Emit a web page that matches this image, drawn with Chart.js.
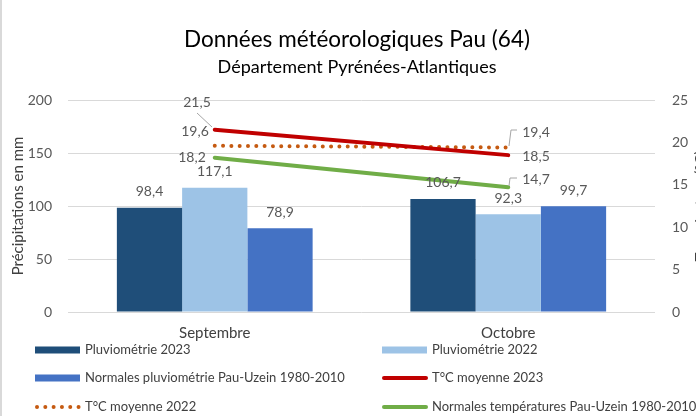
<!DOCTYPE html>
<html lang="fr">
<head>
<meta charset="utf-8">
<title>Données météorologiques Pau (64)</title>
<script src="https://cdn.jsdelivr.net/npm/chart.js@4.4.1/dist/chart.umd.min.js"></script>
<style>
    html, body { margin: 0; padding: 0; background: #fff; overflow: hidden; }
    #wrap { position: relative; width: 696px; height: 416px; }
</style>
</head>
<body>
<div id="wrap"><canvas id="myChart" width="696" height="416"></canvas></div>
<script>
// Categories and series
const categories = ['Septembre', 'Octobre'];
const pluvio2023 = [98.4, 106.7];
const pluvio2022 = [117.1, 92.3];
const normalesPluvio = [78.9, 99.7];
const temp2023 = [21.5, 18.5];
const temp2022 = [19.6, 19.4];
const normalesTemp = [18.2, 14.7];

// Axis ranges
const precipMax = 200;
const precipStep = 50;
const tempMax = 25;
const tempStep = 5;

const FONT = 'Lato';

// Format numbers the French way
function fr(v) {
    return v.toFixed(1).replace('.', ',');
}

// Where to put each line label: [align, dx, dy, leader points]
const lineLabelPlacement = {
    3: [['right', -4, -27, [[197, 113], [212, 127]]], ['left', 14, 1, null]],
    4: [['right', -6, -14, null], ['left', 14, -15, [[517, 130], [511, 130], [509, 146]]]],
    5: [['right', -9, 0, null], ['left', 14, -8, [[517, 178], [510, 178], [509, 186]]]]
};

// Background and frame
const framePlugin = {
    id: 'frame',
    beforeDraw(chart) {
        const ctx = chart.ctx;
        ctx.save();
        ctx.fillStyle = '#ffffff';
        ctx.fillRect(0, 0, chart.width, chart.height);
        ctx.fillStyle = '#d9d9d9';
        ctx.fillRect(0, 0, 2, chart.height);
        ctx.restore();
    }
};

// Value labels on bars and lines
const valueLabels = {
    id: 'valueLabels',
    afterDatasetsDraw(chart) {
        const ctx = chart.ctx;
        ctx.save();
        ctx.font = '14px ' + FONT;
        ctx.fillStyle = '#595959';
        ctx.textBaseline = 'middle';
        chart.data.datasets.forEach((ds, i) => {
            const meta = chart.getDatasetMeta(i);
            meta.data.forEach((el, j) => {
                const txt = fr(ds.data[j]);
                if (ds.type === 'line') {
                    const p = lineLabelPlacement[i][j];
                    if (p[3]) {
                        ctx.strokeStyle = '#a6a6a6';
                        ctx.lineWidth = 1;
                        ctx.beginPath();
                        p[3].forEach((pt, k) => k ? ctx.lineTo(pt[0], pt[1]) : ctx.moveTo(pt[0], pt[1]));
                        ctx.stroke();
                    }
                    ctx.textAlign = p[0];
                    ctx.fillText(txt, el.x + p[1], el.y + p[2]);
                } else {
                    ctx.textAlign = 'center';
                    ctx.fillText(txt, el.x, el.y - 16);
                }
            });
        });
        ctx.restore();
    }
};

// Two-column legend at the bottom, plus the clipped right axis title
const bottomLegend = {
    id: 'bottomLegend',
    afterDraw(chart) {
        const ctx = chart.ctx;
        const cols = [35, 382];
        const rows = [350, 378, 407];
        ctx.save();
        chart.data.datasets.forEach((ds, i) => {
            const x = cols[i % 2];
            const y = rows[Math.floor(i / 2)];
            if (ds.type === 'line') {
                ctx.strokeStyle = ds.borderColor;
                ctx.lineWidth = ds.borderWidth;
                ctx.lineCap = 'round';
                ctx.setLineDash(ds.borderDash || []);
                ctx.beginPath();
                ctx.moveTo(x + 2, y);
                ctx.lineTo(x + 44, y);
                ctx.stroke();
                ctx.setLineDash([]);
            } else {
                ctx.fillStyle = ds.backgroundColor;
                ctx.fillRect(x, y - 3.5, 45, 7);
            }
            ctx.font = '13px ' + FONT;
            ctx.fillStyle = '#404040';
            ctx.textAlign = 'left';
            ctx.textBaseline = 'middle';
            ctx.fillText(ds.label, x + 50, y);
        });

        // right axis title, partly outside the canvas like the original
        ctx.translate(701, (chart.chartArea.top + chart.chartArea.bottom) / 2);
        ctx.rotate(-Math.PI / 2);
        ctx.font = '15px ' + FONT;
        ctx.fillStyle = '#404040';
        ctx.textAlign = 'center';
        ctx.textBaseline = 'middle';
        ctx.fillText('Température (°C)', 0, 0);
        ctx.restore();
    }
};

const ctx = document.getElementById('myChart').getContext('2d');
const myChart = new Chart(ctx, {
    type: 'bar',
    data: {
        labels: categories,
        datasets: [
            {
                label: 'Pluviométrie 2023',
                data: pluvio2023,
                backgroundColor: '#1f4e79',
                yAxisID: 'y',
                order: 1
            },
            {
                label: 'Pluviométrie 2022',
                data: pluvio2022,
                backgroundColor: '#9dc3e6',
                yAxisID: 'y',
                order: 1
            },
            {
                label: 'Normales pluviométrie Pau-Uzein 1980-2010',
                data: normalesPluvio,
                backgroundColor: '#4472c4',
                yAxisID: 'y',
                order: 1
            },
            {
                type: 'line',
                label: 'T°C moyenne 2023',
                data: temp2023,
                borderColor: '#c00000',
                borderWidth: 4,
                borderCapStyle: 'round',
                pointRadius: 0,
                yAxisID: 'y1',
                order: 0
            },
            {
                type: 'line',
                label: 'T°C moyenne 2022',
                data: temp2022,
                borderColor: '#c55a11',
                borderWidth: 4,
                borderCapStyle: 'round',
                borderDash: [0.01, 8.3],
                pointRadius: 0,
                yAxisID: 'y1',
                order: 0
            },
            {
                type: 'line',
                label: 'Normales températures Pau-Uzein 1980-2010',
                data: normalesTemp,
                borderColor: '#70ad47',
                borderWidth: 4,
                borderCapStyle: 'round',
                pointRadius: 0,
                yAxisID: 'y1',
                order: 0
            }
        ]
    },
    options: {
        responsive: false,
        animation: false,
        layout: {
            // the original frame is wider than the picture, so the right edge is cut
            padding: { top: 0, bottom: 74, left: 0, right: -18 }
        },
        datasets: {
            bar: {
                categoryPercentage: 0.667,
                barPercentage: 1.0
            }
        },
        scales: {
            x: {
                grid: { display: false, drawTicks: false },
                border: { display: false },
                ticks: {
                    color: '#404040',
                    font: { family: FONT, size: 15 },
                    padding: 12
                },
                afterFit: function (scale) { scale.height = 30; }
            },
            y: {
                position: 'left',
                min: 0,
                max: precipMax,
                grid: { color: '#d9d9d9', lineWidth: 1, drawTicks: false },
                border: { display: false },
                ticks: {
                    stepSize: precipStep,
                    color: '#595959',
                    font: { family: FONT, size: 14 },
                    padding: 16
                },
                title: {
                    display: true,
                    text: 'Précipitations en mm',
                    color: '#404040',
                    font: { family: FONT, size: 15 },
                    padding: { top: 9, bottom: 0 }
                },
                afterFit: function (scale) { scale.width = 68; }
            },
            y1: {
                position: 'right',
                min: 0,
                max: tempMax,
                grid: { drawOnChartArea: false, drawTicks: false },
                border: { display: false },
                ticks: {
                    stepSize: tempStep,
                    color: '#595959',
                    font: { family: FONT, size: 14 },
                    padding: 17
                },
                afterFit: function (scale) { scale.width = 59; }
            }
        },
        plugins: {
            legend: { display: false },
            tooltip: { enabled: false },
            title: {
                display: true,
                text: 'Données météorologiques Pau (64)',
                color: '#000000',
                font: { family: FONT, size: 22.5, weight: 'normal' },
                padding: { top: 26.5, bottom: 0 }
            },
            subtitle: {
                display: true,
                text: 'Département Pyrénées-Atlantiques',
                color: '#000000',
                font: { family: FONT, size: 18, weight: 'normal' },
                padding: { top: 2.7, bottom: 22.2 }
            }
        }
    },
    plugins: [framePlugin, valueLabels, bottomLegend]
});
</script>
</body>
</html>
